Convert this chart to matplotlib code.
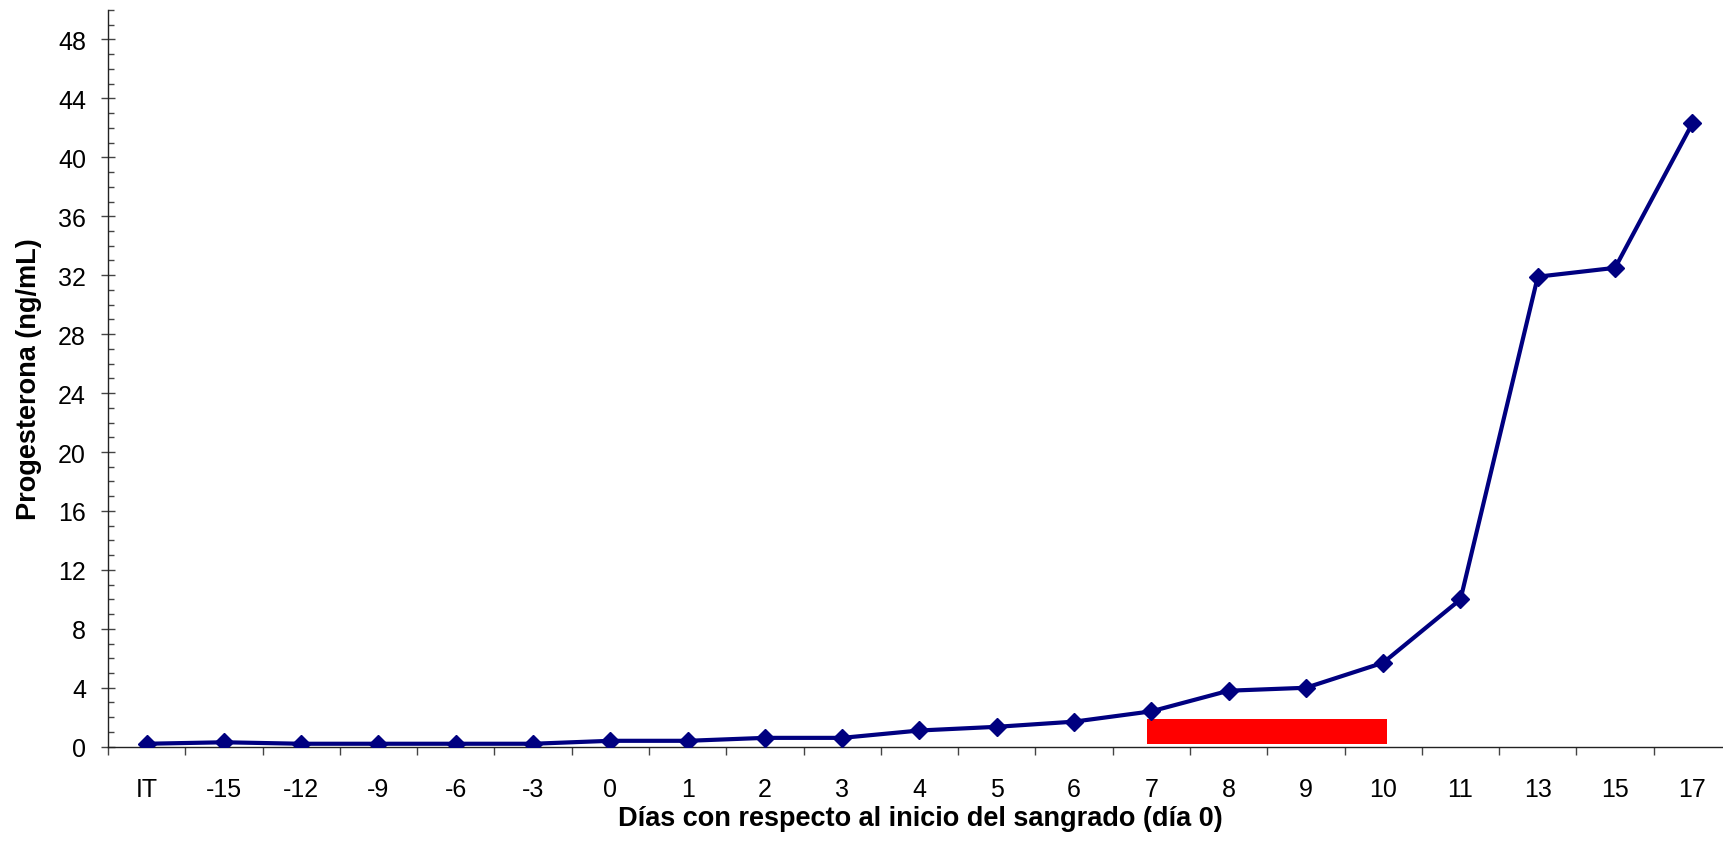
import matplotlib
matplotlib.use("Agg")
import matplotlib.pyplot as plt
from matplotlib.ticker import MultipleLocator, FixedLocator
from matplotlib.patches import Rectangle

plt.rcParams['font.family'] = ['Liberation Sans', 'DejaVu Sans']

# Sampling days relative to bleeding onset (IT = start of treatment)
days = ["IT", "-15", "-12", "-9", "-6", "-3", "0", "1", "2", "3", "4",
        "5", "6", "7", "8", "9", "10", "11", "13", "15", "17"]
progesterone = [0.2, 0.3, 0.2, 0.2, 0.2, 0.2, 0.4, 0.4, 0.6, 0.6, 1.1,
                1.35, 1.7, 2.4, 3.8, 4.0, 5.7, 10.0, 31.9, 32.5, 42.3]

# Bleeding period marker (from day 7 to day 10)
bleed_start, bleed_end = "7", "10"
bleed_low, bleed_high = 0.2, 1.9

W, H = 1724, 854
fig = plt.figure(figsize=(W / 100, H / 100), dpi=100)
ax = fig.add_axes([108 / W, (H - 747.7) / H, (1731 - 108) / W, (747.7 - 11) / H])

x = list(range(len(days)))
ax.plot(x, progesterone, color="#000080", lw=3.0, marker="D", ms=9,
        mfc="#000080", mec="#000080", mew=1, zorder=3)

i0, i1 = days.index(bleed_start), days.index(bleed_end)
ax.add_patch(Rectangle((i0 - 0.05, bleed_low), (i1 - i0) + 0.1,
                       bleed_high - bleed_low, facecolor="#ff0000",
                       edgecolor="none", zorder=2))

ax.set_xlim(-0.5, len(days) - 0.5)
ax.set_ylim(0, 50)

ax.spines["top"].set_visible(False)
ax.spines["right"].set_visible(False)
for s in ("left", "bottom"):
    ax.spines[s].set_linewidth(1.0)
    ax.spines[s].set_color("#222222")

ax.yaxis.set_major_locator(FixedLocator(range(0, 49, 4)))
ax.yaxis.set_minor_locator(MultipleLocator(1))
ax.tick_params(axis="y", which="major", direction="inout", length=9.5,
               width=1, color="#444444", labelsize=18, pad=11)
ax.tick_params(axis="y", which="minor", direction="in", length=4.5,
               width=1, color="#444444")

ax.set_xticks(x)
ax.set_xticklabels(days)
ax.xaxis.set_minor_locator(FixedLocator([i - 0.5 for i in range(len(days) + 1)]))
ax.tick_params(axis="x", which="major", length=0, labelsize=18, pad=22)
ax.tick_params(axis="x", which="minor", direction="out", length=6,
               width=1, color="#444444")

fig.text(29 / W, 1 - 379 / H, "Progesterona (ng/mL)", rotation=90,
         ha="center", va="center", fontsize=19.5, fontweight="bold")
fig.text(920 / W, 1 - 819 / H, "Días con respecto al inicio del sangrado (día 0)",
         ha="center", va="center", fontsize=19.5, fontweight="bold")

fig.savefig("out.png", dpi=100)
